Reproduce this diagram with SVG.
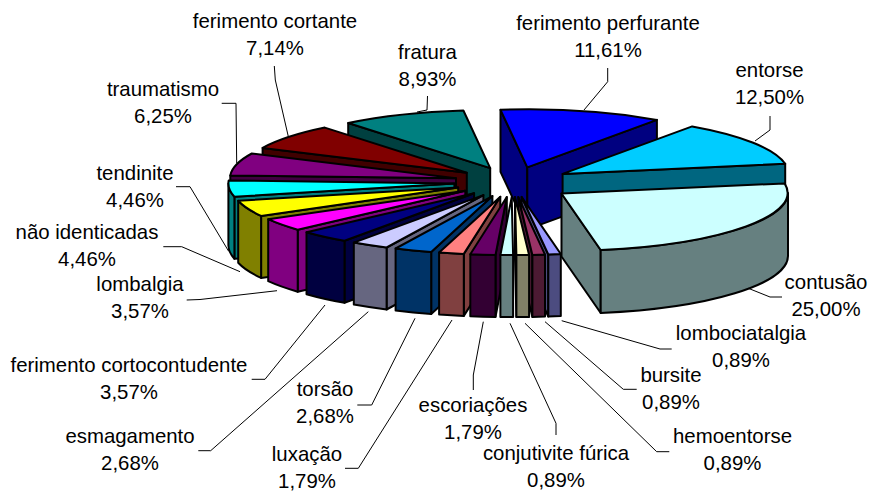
<svg xmlns="http://www.w3.org/2000/svg" width="872" height="495" viewBox="0 0 872 495">
<style>
.e{stroke:#000;stroke-width:2;stroke-linejoin:round}
.t{font-family:"Liberation Sans",Arial,sans-serif;font-size:20.4px;text-anchor:middle;fill:#000}
.ld{fill:none;stroke:#000;stroke-width:1}
</style>
<rect width="872" height="495" fill="#fff"/>
<g id="perfurante">
<path class="e" fill="#000080" d="M527.3,167.4 L500.5,109.8 L500.5,171.8 L527.3,229.4 Z"/>
<path class="e" fill="#000080" d="M527.3,167.4 L656.9,119.9 L656.9,181.9 L527.3,229.4 Z"/>
<path class="e" fill="#0000FF" d="M527.3,167.4 L500.5,109.8 A226 58 0 0 1 656.9,119.9 Z"/>
<text class="t" x="608" y="29.5">ferimento perfurante<tspan x="608" dy="27">11,61%</tspan></text>
</g>
<g id="fratura">
<path class="e" fill="#004040" d="M490.2,168.1 L348.2,123 L348.2,185 L490.2,230.1 Z"/>
<path class="e" fill="#008080" d="M490.2,168.1 L348.2,123 A226 58 0 0 1 463.4,110.5 Z"/>
<text class="t" x="427.5" y="58.5">fratura<tspan x="427.5" dy="27">8,93%</tspan></text>
</g>
<g id="cortante">
<path class="e" fill="#400000" d="M466.8,172.7 L262.6,147.9 L262.6,209.9 L466.8,234.7 Z"/>
<path class="e" fill="#800000" d="M466.8,172.7 L262.6,147.9 A226 58 0 0 1 324.8,127.6 Z"/>
<text class="t" x="275" y="28">ferimento cortante<tspan x="275" dy="27">7,14%</tspan></text>
</g>
<g id="entorse">
<path class="e" fill="#006680" d="M562.6,173.9 L785.2,163.8 L785.2,225.8 L562.6,235.9 Z"/>
<path class="e" fill="#00CCFF" d="M562.6,173.9 L692.2,126.4 A226 58 0 0 1 785.2,163.8 Z"/>
<text class="t" x="769.5" y="77">entorse<tspan x="769.5" dy="27">12,50%</tspan></text>
</g>
<g id="traumatismo">
<path class="e" fill="#400040" d="M456,178.3 L230.3,175.4 L230.3,237.4 L456,240.3 Z"/>
<path class="e" fill="#800080" d="M456,178.3 L230.3,175.4 A226 58 0 0 1 251.8,153.5 Z"/>
<text class="t" x="163" y="96">traumatismo<tspan x="163" dy="27">6,25%</tspan></text>
</g>
<g id="tendinite">
<path class="e" fill="#008080" d="M454.4,183.4 L234.4,196.7 L234.4,258.7 L454.4,245.4 Z"/>
<path class="e" fill="#008080" d="M234.4,196.7 A226 58 0 0 1 228.4,183.4 L228.4,245.4 A226 58 0 0 0 234.4,258.7 Z"/>
<path class="e" fill="#00FFFF" d="M454.4,183.4 L234.4,196.7 A226 58 0 0 1 228.7,180.5 Z"/>
<text class="t" x="135" y="180">tendinite<tspan x="135" dy="27">4,46%</tspan></text>
</g>
<g id="nao-identicadas">
<path class="e" fill="#808000" d="M458.2,187.5 L261.1,215.9 L261.1,277.9 L458.2,249.5 Z"/>
<path class="e" fill="#808000" d="M261.1,215.9 A226 58 0 0 1 238.2,200.8 L238.2,262.8 A226 58 0 0 0 261.1,277.9 Z"/>
<path class="e" fill="#FFFF00" d="M458.2,187.5 L261.1,215.9 A226 58 0 0 1 238.2,200.8 Z"/>
<text class="t" x="87" y="238.5">não identicadas<tspan x="87" dy="27">4,46%</tspan></text>
</g>
<g id="contusao">
<path class="e" fill="#668080" d="M561.5,193.5 L600.7,250 L600.7,313 L561.5,256.5 Z"/>
<path class="e" fill="#668080" d="M788,193 A226 58 0 0 1 600.7,250 L600.7,313 A226 58 0 0 0 788,256 Z"/>
<path class="e" fill="#CCFFFF" d="M561.5,193.5 L784.6,183.4 A226 58 0 0 1 600.7,250 Z"/>
<text class="t" x="826" y="288.5">contusão<tspan x="826" dy="27">25,00%</tspan></text>
</g>
<g id="lombalgia">
<path class="e" fill="#800080" d="M465.3,190.8 L297.7,229.7 L297.7,291.7 L465.3,252.8 Z"/>
<path class="e" fill="#800080" d="M297.7,229.7 A226 58 0 0 1 268.2,219.2 L268.2,281.2 A226 58 0 0 0 297.7,291.7 Z"/>
<path class="e" fill="#FF00FF" d="M465.3,190.8 L297.7,229.7 A226 58 0 0 1 268.2,219.2 Z"/>
<text class="t" x="140" y="291">lombalgia<tspan x="140" dy="27">3,57%</tspan></text>
</g>
<g id="cortocontudente">
<path class="e" fill="#000040" d="M474.1,193.3 L344.5,240.8 L344.5,302.8 L474.1,255.3 Z"/>
<path class="e" fill="#000040" d="M344.5,240.8 A226 58 0 0 1 306.5,232.2 L306.5,294.2 A226 58 0 0 0 344.5,302.8 Z"/>
<path class="e" fill="#000080" d="M474.1,193.3 L344.5,240.8 A226 58 0 0 1 306.5,232.2 Z"/>
<text class="t" x="129" y="372">ferimento cortocontudente<tspan x="129" dy="27">3,57%</tspan></text>
</g>
<g id="esmagamento">
<path class="e" fill="#666680" d="M483.4,195.1 L386.6,247.5 L386.6,309.5 L483.4,257.1 Z"/>
<path class="e" fill="#666680" d="M386.6,247.5 A226 58 0 0 1 353.8,242.6 L353.8,304.6 A226 58 0 0 0 386.6,309.5 Z"/>
<path class="e" fill="#CCCCFF" d="M483.4,195.1 L386.6,247.5 A226 58 0 0 1 353.8,242.6 Z"/>
<text class="t" x="130" y="443">esmagamento<tspan x="130" dy="27">2,68%</tspan></text>
</g>
<g id="torsao">
<path class="e" fill="#003366" d="M492.4,196.1 L431.2,251.9 L431.2,313.9 L492.4,258.1 Z"/>
<path class="e" fill="#003366" d="M431.2,251.9 A226 58 0 0 1 395.6,248.5 L395.6,310.5 A226 58 0 0 0 431.2,313.9 Z"/>
<path class="e" fill="#0066CC" d="M492.4,196.1 L431.2,251.9 A226 58 0 0 1 395.6,248.5 Z"/>
<text class="t" x="325" y="396">torsão<tspan x="325" dy="27">2,68%</tspan></text>
</g>
<g id="luxacao">
<path class="e" fill="#804040" d="M500.3,196.7 L463.8,253.9 L463.8,315.9 L500.3,258.7 Z"/>
<path class="e" fill="#804040" d="M463.8,253.9 A226 58 0 0 1 439.1,252.5 L439.1,314.5 A226 58 0 0 0 463.8,315.9 Z"/>
<path class="e" fill="#FF8080" d="M500.3,196.7 L463.8,253.9 A226 58 0 0 1 439.1,252.5 Z"/>
<text class="t" x="307" y="461">luxação<tspan x="307" dy="27">1,79%</tspan></text>
</g>
<g id="lombociatalgia">
<path class="e" fill="#4C4C80" d="M521.6,196.9 L548.3,254.5 L548.3,316.5 L521.6,258.9 Z"/>
<path class="e" fill="#4C4C80" d="M560.8,254 A226 58 0 0 1 548.3,254.5 L548.3,316.5 A226 58 0 0 0 560.8,316 Z"/>
<path class="e" fill="#9999FF" d="M521.6,196.9 L560.8,254 A226 58 0 0 1 548.3,254.5 Z"/>
<text class="t" x="741" y="340">lombociatalgia<tspan x="741" dy="27">0,89%</tspan></text>
</g>
<g id="escoriacoes">
<path class="e" fill="#330033" d="M506.8,197 L495.5,254.9 L495.5,316.9 L506.8,259 Z"/>
<path class="e" fill="#330033" d="M495.5,254.9 A226 58 0 0 1 470.3,254.2 L470.3,316.2 A226 58 0 0 0 495.5,316.9 Z"/>
<path class="e" fill="#660066" d="M506.8,197 L495.5,254.9 A226 58 0 0 1 470.3,254.2 Z"/>
<text class="t" x="473" y="412">escoriações<tspan x="473" dy="27">1,79%</tspan></text>
</g>
<g id="bursite">
<path class="e" fill="#4C1A33" d="M518.3,197 L532.4,254.9 L532.4,316.9 L518.3,259 Z"/>
<path class="e" fill="#4C1A33" d="M545,254.6 A226 58 0 0 1 532.4,254.9 L532.4,316.9 A226 58 0 0 0 545,316.6 Z"/>
<path class="e" fill="#993366" d="M518.3,197 L545,254.6 A226 58 0 0 1 532.4,254.9 Z"/>
<text class="t" x="671" y="382">bursite<tspan x="671" dy="27">0,89%</tspan></text>
</g>
<g id="hemoentorse">
<path class="e" fill="#808066" d="M515,197.1 L516.4,255.1 L516.4,317.1 L515,259.1 Z"/>
<path class="e" fill="#808066" d="M529.1,255 A226 58 0 0 1 516.4,255.1 L516.4,317.1 A226 58 0 0 0 529.1,317 Z"/>
<path class="e" fill="#FFFFCC" d="M515,197.1 L529.1,255 A226 58 0 0 1 516.4,255.1 Z"/>
<text class="t" x="732.5" y="443">hemoentorse<tspan x="732.5" dy="27">0,89%</tspan></text>
</g>
<g id="conjutivite">
<path class="e" fill="#668080" d="M513.1,255.1 A226 58 0 0 1 500.4,255 L500.4,317 A226 58 0 0 0 513.1,317.1 Z"/>
<path class="e" fill="#CCFFFF" d="M511.7,197.1 L513.1,255.1 A226 58 0 0 1 500.4,255 Z"/>
<text class="t" x="556" y="460">conjutivite fúrica<tspan x="556" dy="27">0,89%</tspan></text>
</g>
<g id="connectors">
<polyline class="ld" points="274.3,66 275.3,80 288.3,136.5"/>
<polyline class="ld" points="427.5,96 427,110 417,112"/>
<polyline class="ld" points="607.7,68 607.7,81.7 584,110"/>
<polyline class="ld" points="770,116 770,130 755,141"/>
<polyline class="ld" points="221.7,103.3 236,103.3 236.7,163"/>
<polyline class="ld" points="176,186.7 190,186.7 228.5,251"/>
<polyline class="ld" points="163.3,246.7 181.7,246.7 240,271.7"/>
<polyline class="ld" points="186.7,300 200,299.5 277,290.7"/>
<polyline class="ld" points="251.7,379.3 265,379.3 325,305"/>
<polyline class="ld" points="198.3,450.7 210.7,450.7 368.3,311.7"/>
<polyline class="ld" points="357.3,405 371.7,405 415,318.3"/>
<polyline class="ld" points="345,468.3 358.3,468.3 452,320"/>
<polyline class="ld" points="473.3,390 473.3,375 483.3,321.7"/>
<polyline class="ld" points="556,435 556,423.3 510,323.3"/>
<polyline class="ld" points="669.3,451.7 656.7,451.7 525,323.3"/>
<polyline class="ld" points="636.7,389.3 623.3,389.3 545,321.7"/>
<polyline class="ld" points="671.7,349 660,349 561.7,320.7"/>
<polyline class="ld" points="748.3,288.3 770,297 782,297"/>
</g>
</svg>
